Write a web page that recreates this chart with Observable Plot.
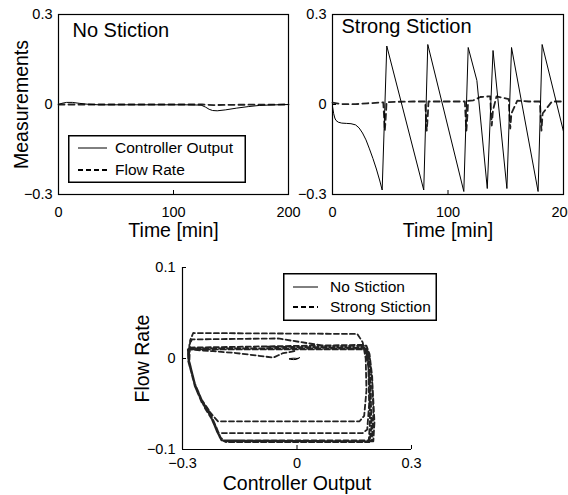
<!DOCTYPE html>
<html><head><meta charset="utf-8">
<script src="https://cdn.jsdelivr.net/npm/d3@7"></script>
<script src="https://cdn.jsdelivr.net/npm/@observablehq/plot@0.6"></script>
<style>
body{margin:0;background:#fff;}
#fig{position:relative;width:568px;height:495px;overflow:hidden;background:#fff;font-family:"Liberation Sans",Arial,sans-serif;}
#fig > *{position:absolute;}
</style></head><body><div id="fig"></div>
<script>
// ---------- data ----------
const timeTicks = [0, 100, 200];
const measTicks = [-0.3, 0, 0.3];
const coTicks = [-0.3, 0, 0.3];
const flowTicks = [-0.1, 0, 0.1];

// No stiction time series
const nsTime = [0,3,7,12,18,25,35,50,80,110,124,128,131,134,138,145,155,165,175,190,200];
const nsCO   = [0,0.004,0.007,0.007,0.004,0.001,-0.001,-0.001,-0.001,-0.001,-0.002,-0.009,-0.016,-0.02,-0.021,-0.018,-0.012,-0.007,-0.003,-0.001,0];
const nsFlowTime = [0,50,100,125,135,150,200];
const nsFlow     = [0,0,0,0,-0.002,-0.001,0];

// Strong stiction time series
const ssTime = [0,1,2,3,5,8,12,16,20,23,26,29,32,35,38,41,43,47,79,82.5,113.7,117.5,125,134,139,151,155,178,181.5,200];
const ssCO   = [-0.007,-0.03,-0.045,-0.053,-0.059,-0.062,-0.063,-0.064,-0.068,-0.078,-0.095,-0.118,-0.148,-0.18,-0.215,-0.255,-0.285,0.195,-0.285,0.2,-0.29,0.19,0.08,-0.28,0.18,-0.28,0.19,-0.29,0.2,-0.09];
const ssFlowTime = [0,5,10,20,30,40,44,44.5,44.9,45.3,45.8,46.3,46.8,55,70,80.3,80.8,81.2,81.6,82.1,82.6,83.1,100,114.6,115.1,115.5,115.9,116.4,116.9,117.4,122,128,135,136.6,137.1,137.5,137.9,138.4,138.9,142,148,152.6,153.1,153.5,153.9,154.4,154.9,160,170,179.6,180.1,180.5,180.9,181.4,181.9,190,200];
const ssFlow     = [0.006,0.003,0.001,0.001,0.004,0.006,0.007,-0.03,-0.06,-0.087,-0.06,-0.03,0.008,0.009,0.01,0.01,-0.03,-0.06,-0.087,-0.06,-0.03,0.01,0.01,0.01,-0.03,-0.06,-0.087,-0.06,-0.03,0.012,0.014,0.025,0.027,0.027,-0.02,-0.045,-0.07,-0.045,-0.02,0.027,0.022,0.018,-0.03,-0.055,-0.08,-0.055,-0.03,0.013,0.01,0.01,-0.03,-0.06,-0.087,-0.06,-0.03,0.01,0.01];

// Phase plot: strong stiction (controller output vs flow rate)
const phaseCO = [-0.007,-0.02,-0.036,-0.062,-0.1,-0.16,-0.22,-0.286,
 -0.285,-0.27,-0.25,-0.232,-0.215,-0.2,-0.188,0.0,0.188,0.191,0.19,0.186,0.181,0.174,
 -0.286,
 -0.284,-0.268,-0.25,-0.23,-0.212,-0.2,-0.185,0.19,0.195,0.193,0.188,0.183,0.176,
 -0.284,
 -0.283,-0.265,-0.245,-0.226,-0.208,-0.196,0.196,0.2,0.197,0.19,0.182,0.165,
 0.07,-0.05,-0.275,-0.282,
 -0.283,-0.266,-0.245,-0.222,-0.207,0.164,0.176,0.182,0.18,0.172,0.158,
 -0.272,-0.28,
 -0.282,-0.264,-0.242,-0.218,-0.205,0.172,0.184,0.189,0.187,0.18,0.17,
 -0.285,
 -0.284,-0.267,-0.248,-0.229,-0.21,-0.198,0.2,0.203,0.198,0.191,0.184,0.175,
 -0.09];
const phaseFlow = [0.008,0.007,0.006,0.001,0.003,0.006,0.008,0.01,
 -0.003,-0.026,-0.045,-0.056,-0.072,-0.087,-0.091,-0.091,-0.091,-0.07,-0.03,-0.002,0.008,0.01,
 0.01,
 -0.004,-0.03,-0.048,-0.06,-0.077,-0.089,-0.092,-0.092,-0.075,-0.03,0.0,0.009,0.011,
 0.011,
 -0.002,-0.033,-0.05,-0.064,-0.082,-0.09,-0.09,-0.06,-0.02,0.005,0.014,0.014,
 0.014,0.022,0.021,0.015,
 -0.002,-0.03,-0.05,-0.062,-0.069,-0.069,-0.063,-0.035,0.0,0.018,0.027,
 0.028,0.02,
 -0.003,-0.034,-0.054,-0.07,-0.082,-0.082,-0.078,-0.05,-0.01,0.01,0.015,
 0.012,
 -0.003,-0.028,-0.047,-0.06,-0.08,-0.09,-0.091,-0.07,-0.03,0.0,0.01,0.012,
 0.013];
// Phase plot: no stiction
const nsPhaseCO   = [0,0.004,0.007,0.004,0,-0.002,-0.009,-0.016,-0.021,-0.018,-0.01,-0.003,0];
const nsPhaseFlow = [0,0.0005,0.001,0,-0.0005,-0.001,-0.0012,-0.001,-0.0005,0,0.0003,0.0002,0];

// ---------- helpers ----------
const FONT = '"Liberation Sans", Arial, sans-serif';
const TITLE_SIZE = 19.5;
const fig = document.getElementById("fig");
const zip = (a, b, k1, k2) => a.map((v, i) => ({[k1]: v, [k2]: b[i]}));
const fmt = d => d === 0 ? "0" : d3.format(".1f")(d);
const fmtInt = d3.format("d");
const style = {fontFamily: FONT, fontSize: "14.5px", fontWeight: "normal", background: "none", color: "black", overflow: "visible", maxWidth: "none"};

function place(el, left, top) { el.style.left = left + "px"; el.style.top = top + "px"; fig.appendChild(el); }

function timePanel({title, titleDx, titleDy, co, flow, showYLabel, m}) {
  const innerH = 180, innerW = m.width - m.marginLeft - m.marginRight;
  const marks = [
    Plot.frame({stroke: "black", strokeWidth: 1.2}),
    Plot.tickX(timeTicks, {x: d => d, insetTop: innerH - 4, stroke: "black"}),
    Plot.tickY(measTicks, {y: d => d, insetRight: innerW - 4, stroke: "black"}),
    Plot.axisX(timeTicks, {tickSize: 0, tickPadding: 12, tickFormat: fmtInt, fontSize: 14.5, label: null}),
    Plot.axisY(measTicks, {tickSize: 0, tickPadding: 6, tickFormat: fmt, fontSize: 14.5, label: null}),
    Plot.line(flow, {x: "t", y: "v", stroke: "#222", strokeWidth: 1.8, strokeDasharray: "6,4"}),
    Plot.line(co, {x: "t", y: "v", stroke: "black", strokeWidth: 1}),
    Plot.text([title], {frameAnchor: "top-left", dx: titleDx, dy: titleDy, textAnchor: "start", lineAnchor: "middle", fontSize: 20, fontWeight: "normal"}),
    Plot.text(["Time [min]"], {frameAnchor: "bottom", dy: 36.5, textAnchor: "middle", lineAnchor: "middle", fontSize: TITLE_SIZE, fontWeight: "normal"})
  ];
  if (showYLabel) marks.push(Plot.text(["Measurements"], {frameAnchor: "left", dx: -36.5, rotate: -90, textAnchor: "middle", lineAnchor: "middle", fontSize: TITLE_SIZE, fontWeight: "normal"}));
  return Plot.plot({
    ...m, height: 245, marginTop: 14, marginBottom: 51,
    style,
    x: {domain: [0, 200]},
    y: {domain: [-0.3, 0.3]},
    marks
  });
}

function legend(left, top, w, h, items, opts) {
  const svg = d3.create("svg").attr("width", w).attr("height", h)
    .style("font-family", FONT).style("font-size", opts.fontSize + "px");
  svg.append("rect").attr("x", 0.75).attr("y", 0.75).attr("width", w - 1.5).attr("height", h - 1.5)
    .attr("fill", "white").attr("stroke", "black").attr("stroke-width", 1.5);
  items.forEach((it, i) => {
    const y = opts.row0 + i * opts.rowGap;
    svg.append("line").attr("x1", opts.x1).attr("x2", opts.x2).attr("y1", y).attr("y2", y)
      .attr("stroke", "black").attr("stroke-width", it.dash ? 1.8 : 1).attr("stroke-dasharray", it.dash || null);
    svg.append("text").attr("x", opts.tx).attr("y", y).attr("dy", "0.35em").text(it.label);
  });
  place(svg.node(), left, top);
}

// ---------- top-left ----------
place(timePanel({
  title: "No Stiction", titleDx: 14, titleDy: 16,
  co: zip(nsTime, nsCO, "t", "v"), flow: zip(nsFlowTime, nsFlow, "t", "v"),
  showYLabel: true,
  m: {width: 296, marginLeft: 58, marginRight: 8}
}), 0, 0);
legend(68, 135, 178, 48, [{label: "Controller Output"}, {label: "Flow Rate", dash: "5,3"}],
  {fontSize: 15.5, row0: 13, rowGap: 22, x1: 10, x2: 39, tx: 47});

// ---------- top-right ----------
place(timePanel({
  title: "Strong Stiction", titleDx: 9, titleDy: 12,
  co: zip(ssTime, ssCO, "t", "v"), flow: zip(ssFlowTime, ssFlow, "t", "v"),
  showYLabel: false,
  m: {width: 272, marginLeft: 36, marginRight: 5}
}), 296, 0);

// ---------- bottom phase plot ----------
const pW = 310, pInnerW = 229, pInnerH = 182;
place(Plot.plot({
  width: pW, height: 245, marginLeft: 52, marginRight: pW - 52 - pInnerW, marginTop: 17, marginBottom: 46,
  style,
  x: {domain: [-0.3, 0.3]},
  y: {domain: [-0.1, 0.1]},
  marks: [
    Plot.ruleX([coTicks[0]], {stroke: "black", strokeWidth: 1.2}),
    Plot.ruleY([flowTicks[0]], {stroke: "black", strokeWidth: 1.2}),
    Plot.tickX(coTicks, {x: d => d, insetTop: pInnerH - 4, stroke: "black"}),
    Plot.tickY(flowTicks, {y: d => d, insetRight: pInnerW - 4, stroke: "black"}),
    Plot.axisX(coTicks, {tickSize: 0, tickPadding: 8, tickFormat: fmt, fontSize: 14.5, label: null}),
    Plot.axisY(flowTicks, {tickSize: 0, tickPadding: 7, tickFormat: fmt, fontSize: 14.5, label: null}),
    Plot.line(zip(phaseCO, phaseFlow, "x", "y"), {x: "x", y: "y", stroke: "#222", strokeWidth: 1.8, strokeDasharray: "5,3"}),
    Plot.line(zip(nsPhaseCO, nsPhaseFlow, "x", "y"), {x: "x", y: "y", stroke: "black", strokeWidth: 1}),
    Plot.text(["Controller Output"], {frameAnchor: "bottom", dy: 34.5, textAnchor: "middle", lineAnchor: "middle", fontSize: TITLE_SIZE, fontWeight: "normal"}),
    Plot.text(["Flow Rate"], {frameAnchor: "left", dx: -39.5, rotate: -90, textAnchor: "middle", lineAnchor: "middle", fontSize: TITLE_SIZE, fontWeight: "normal"})
  ]
}), 130, 250);
legend(283, 273, 154, 48, [{label: "No Stiction"}, {label: "Strong Stiction", dash: "5,3"}],
  {fontSize: 15.5, row0: 14, rowGap: 20, x1: 10, x2: 35, tx: 47});
</script></body></html>
